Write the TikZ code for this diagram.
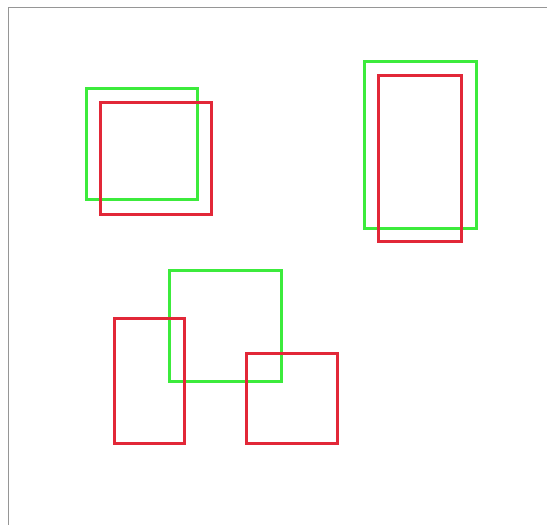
\documentclass[tikz,border=0pt]{standalone}
\usepackage{tikz}
\definecolor{boxgreen}{RGB}{60,235,60}
\definecolor{boxred}{RGB}{226,40,56}
\definecolor{framegray}{RGB}{150,150,150}

\begin{document}
\begin{tikzpicture}[
    x=1pt, y=-1pt,
    gbox/.style={draw=boxgreen, line width=3pt},
    rbox/.style={draw=boxred, line width=3pt},
    frm/.style={draw=framegray, line width=1.8pt},
  ]
    \useasboundingbox (0,0) rectangle (547,525);

    % Frame -- top and left edge
    \draw[frm] (547,7.5) -- (8.5,7.5) -- (8.5,525);

    % Top left pair
    \draw[gbox] (86,88)   rectangle (197,199);
    \draw[rbox] (100,102) rectangle (211,214);

    % Top right pair
    \draw[gbox] (364,61)  rectangle (476,228);
    \draw[rbox] (378,75)  rectangle (461,241);

    % Bottom group
    \draw[gbox] (169,270) rectangle (281,381);
    \draw[rbox] (114,318) rectangle (184,443);
    \draw[rbox] (246,353) rectangle (337,443);
  \end{tikzpicture}
\end{document}
